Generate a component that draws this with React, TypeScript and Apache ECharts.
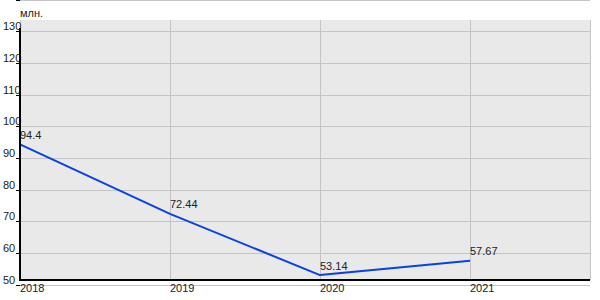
import React, { useEffect, useRef } from "react";
import * as echarts from "echarts";

const years = [2018, 2019, 2020, 2021];
const values = [94.4, 72.44, 53.14, 57.67];
const unitLabel = "млн.";

export default function App() {
  const ref = useRef<HTMLDivElement>(null);
  useEffect(() => {
    document.body.style.margin = "0";
    if (!ref.current) return;
    const chart = echarts.init(ref.current, null, { renderer: "svg" });
    const font = "'Liberation Sans', Arial, sans-serif";
    chart.setOption({
      animation: false,
      backgroundColor: "#ffffff",
      textStyle: { fontFamily: font },
      grid: [
        { left: 20, right: 10, top: 0, bottom: 15, containLabel: false },
        {
          left: 20,
          right: 10,
          top: 20,
          bottom: 20,
          show: true,
          backgroundColor: "#e9e9e9",
          borderWidth: 0,
          z: -5,
        },
      ],
      graphic: [
        {
          type: "line",
          z: 50,
          shape: { x1: 20, y1: 280, x2: 590, y2: 280 },
          style: { stroke: "#000000", lineWidth: 2 },
          silent: true,
        },
        {
          type: "line",
          z: 50,
          shape: { x1: 20, y1: 28, x2: 20, y2: 281 },
          style: { stroke: "#000000", lineWidth: 2 },
          silent: true,
        },
        {
          type: "text",
          x: 20,
          y: 7,
          style: { text: unitLabel, fontSize: 11, fill: "#222222", fontFamily: font },
        },
      ],
      xAxis: [
        {
          type: "value",
          gridIndex: 0,
          min: 2018,
          max: 2021.8,
          interval: 1,
          axisLine: { show: false },
          axisTick: { show: false },
          axisLabel: {
            align: "left",
            verticalAlign: "top",
            margin: -3,
            fontSize: 11,
            color: "#222222",
            showMaxLabel: false,
            formatter: (v: number) => (years.includes(v) ? String(v) : ""),
          },
          splitLine: { show: false },
        },
        {
          type: "value",
          gridIndex: 1,
          min: 2018,
          max: 2021.8,
          interval: 1,
          axisLine: { show: false },
          axisTick: { show: false },
          axisLabel: { show: false },
          splitLine: { show: true, lineStyle: { color: "#c4c4c4", width: 1 } },
        },
      ],
      yAxis: [
        {
          type: "value",
          gridIndex: 0,
          min: 50,
          max: 140,
          interval: 10,
          axisLine: { show: false },
          axisTick: { show: true, length: 4, lineStyle: { color: "#000000" } },
          axisLabel: {
            align: "left",
            verticalAlign: "bottom",
            margin: 17,
            fontSize: 11,
            color: "#222222",
            formatter: (v: number) => (v === 140 ? "" : String(v)),
          },
          splitLine: { show: true, lineStyle: { color: "#c4c4c4", width: 1 } },
        },
        {
          type: "value",
          gridIndex: 1,
          min: 0,
          max: 1,
          show: false,
          splitLine: { show: false },
        },
      ],
      series: [
        {
          type: "line",
          xAxisIndex: 0,
          yAxisIndex: 0,
          data: years.map((y, i) => [y, values[i]]),
          showSymbol: true,
          symbol: "circle",
          symbolSize: 0.1,
          itemStyle: { color: "#0a40e6" },
          lineStyle: { color: "#0a40e6", width: 2 },
          label: {
            show: true,
            position: "top",
            align: "left",
            distance: 4,
            fontSize: 11,
            color: "#222222",
            formatter: (p: any) => String(p.value[1]),
          },
          z: 10,
        },
      ],
    });
    return () => chart.dispose();
  }, []);
  return <div ref={ref} style={{ width: 600, height: 300 }} />;
}
